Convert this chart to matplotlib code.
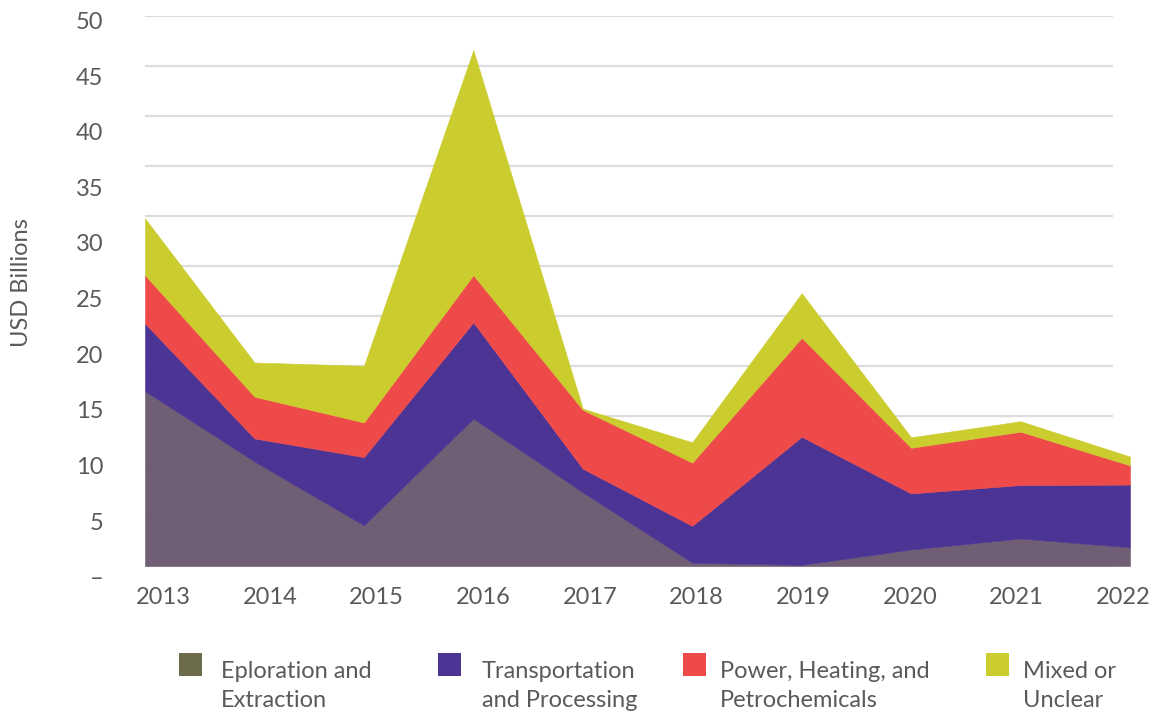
import matplotlib
matplotlib.use("Agg")
import matplotlib.pyplot as plt
from matplotlib.patches import Rectangle
import numpy as np

years = ["2013", "2014", "2015", "2016", "2017", "2018", "2019", "2020", "2021", "2022"]
exploration = [15.9, 9.5, 3.7, 13.4, 6.7, 0.3, 0.1, 1.5, 2.5, 1.7]
transport = [6.15, 2.1, 6.2, 8.75, 2.15, 3.35, 11.65, 5.1, 4.86, 5.7]
power = [4.4, 3.8, 3.15, 4.3, 5.35, 5.75, 9.0, 4.15, 4.85, 1.75]
mixed = [5.15, 3.1, 5.15, 20.45, 0.1, 1.85, 4.05, 0.95, 0.95, 0.8]
series_names = ["Eploration and\nExtraction", "Transportation\nand Processing",
                "Power, Heating, and\nPetrochemicals", "Mixed or\nUnclear"]
ytick_labels = ["\u2013", "5", "10", "15", "20", "25", "30", "35", "40", "45", "50"]

area_colors = ["#6F5E74", "#4B3493", "#EF4A4A", "#CBCC2E"]
legend_colors = ["#6C6B4B", "#4B3493", "#EF4A4A", "#CBCC2E"]
text_color = "#5a5a5a"
font = "Lato"
fs = 17

W, H = 1156, 718
fig = plt.figure(figsize=(W / 100, H / 100), dpi=100)
# axes: x from 145 to 1130 px, y: 50 at 16px, -1.5 at 582.5px
left, right = 145 / W, 1130 / W
bottom, top = 1 - 582.5 / H, 1 - 16 / H
ax = fig.add_axes([left, bottom, right - left, top - bottom])

x = np.arange(len(years))
ax.set_xlim(0, len(years) - 1)
ax.set_ylim(-1.5, 50)

# gridlines (12 evenly spaced lines between 0 and 50)
grid_end = (1113 - 145) / 109.44
for gy in np.linspace(0, 50, 12):
    ax.plot([0, grid_end], [gy, gy], color="#dcdcdc", lw=1.6, zorder=0, solid_capstyle="butt")

ax.stackplot(x, exploration, transport, power, mixed, colors=area_colors,
             linewidth=0.4, edgecolor="face", zorder=2)

for s in ax.spines.values():
    s.set_visible(False)

ax.set_xticks(np.linspace(0.165, 8.94, len(years)))
ax.set_xticklabels(years)
ax.set_yticks(np.linspace(-0.97, 49.6, len(ytick_labels)))
ax.set_yticklabels(ytick_labels)
ax.tick_params(axis="both", length=0, colors=text_color, labelsize=fs)
ax.tick_params(axis="x", pad=3)
ax.tick_params(axis="y", pad=30)
for lab in ax.get_xticklabels() + ax.get_yticklabels():
    lab.set_fontfamily(font)
    lab.set_fontweight("normal")

fig.text(22 / W, 1 - 283 / H, "USD Billions", rotation=90, ha="center", va="center",
         fontsize=fs, color=text_color, family=font)

# legend
sw_x = [179, 438, 683, 986]
tx_x = [221, 482, 720, 1023]
for i in range(4):
    fig.add_artist(Rectangle((sw_x[i] / W, 1 - 676 / H), 23 / W, 23 / H,
                             transform=fig.transFigure, color=legend_colors[i], lw=0))
    fig.text(tx_x[i] / W, 1 - 661 / H, series_names[i], ha="left", va="top",
             fontsize=fs, color=text_color, family=font, linespacing=1.45)

fig.savefig("out.png", dpi=100)
